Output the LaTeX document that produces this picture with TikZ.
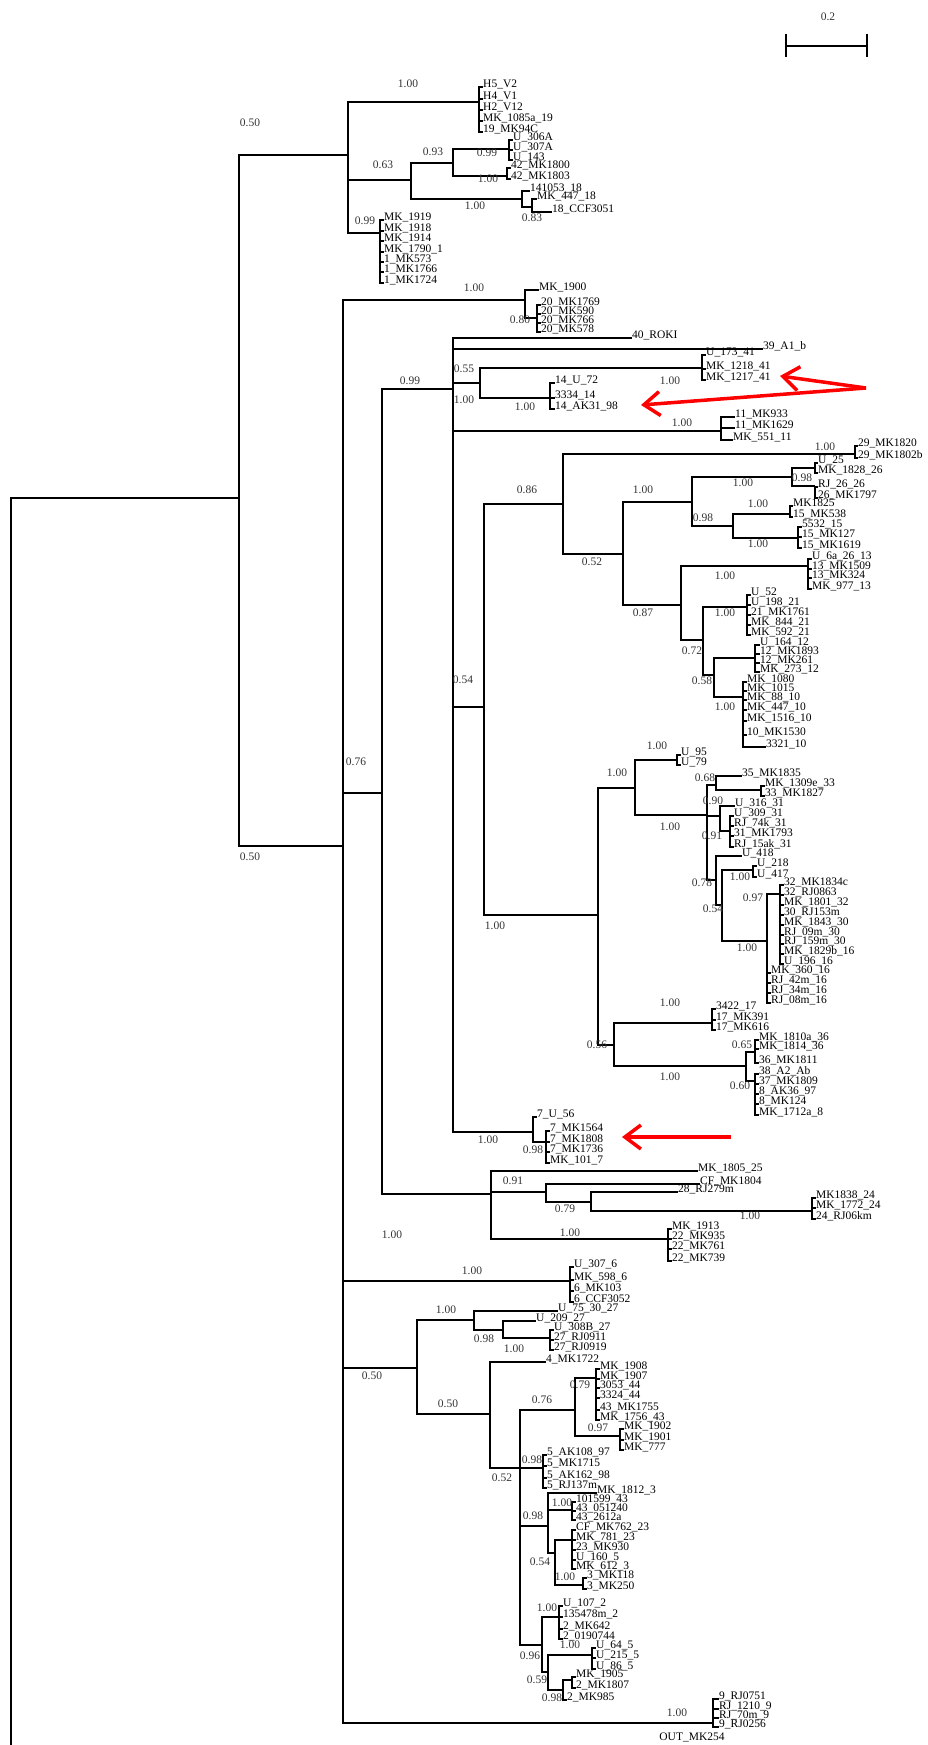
\documentclass[tikz,border=0pt]{standalone}
\usepackage{fontspec}
\setmainfont{Liberation Serif}
\usetikzlibrary{arrows.meta}
\newcounter{lfc}
\newcounter{bsc}
\tikzset{
  br/.style={line width=1.2pt},
  lab/.style={anchor=west, inner sep=0pt, font=\fontsize{11.5}{11.5}\selectfont},
  bsv/.style={inner sep=0pt, font=\fontsize{11.5}{11.5}\selectfont, text=black!80},
  redarr/.style={draw=red, line width=3.5pt, -{Straight Barb[length=16pt,width=24pt]}},
}
\newcommand\tleaf[4]{\stepcounter{lfc}%
  \coordinate (p\thelfc) at (#2,#3+3);%
  \node[lab] (t\thelfc) at (#2,#3) {#4};%
  \draw[br] (#1) |- (p\thelfc);}
\newcommand\bval[3]{\stepcounter{bsc}\node[bsv] (b\thebsc) at (#1,#2) {#3};}
\begin{document}
\catcode`\_=12
\begin{tikzpicture}[x=1pt,y=-1pt]
\fill[white] (0,0) rectangle (928,1745);
\useasboundingbox (0,0) rectangle (928,1745);
% internal nodes
\coordinate (root) at (11,1745);
\coordinate (A) at (239,498);
\coordinate (B) at (348,155);
\coordinate (cH) at (479,102);
\coordinate (C) at (411,180);
\coordinate (D) at (453,163);
\coordinate (D1) at (509,149);
\coordinate (D2) at (507,176);
\coordinate (E) at (522,199);
\coordinate (F) at (532,207);
\coordinate (c1) at (380,233);
\coordinate (G) at (343,846);
\coordinate (c20) at (525,300);
\coordinate (c20b) at (537,318);
\coordinate (H) at (382,793);
\coordinate (I) at (453,389);
\coordinate (K) at (480,383);
\coordinate (c41) at (702,368);
\coordinate (c14) at (550,398);
\coordinate (c11) at (721,431);
\coordinate (L) at (484,707);
\coordinate (M) at (563,504);
\coordinate (c29) at (855,454);
\coordinate (O) at (623,554);
\coordinate (P) at (692,502);
\coordinate (n792) at (792,477);
\coordinate (s26a) at (815,468);
\coordinate (s26b) at (815,486);
\coordinate (n733) at (733,526);
\coordinate (s15a) at (790,514);
\coordinate (s15b) at (798,538);
\coordinate (Q) at (681,605);
\coordinate (c13) at (808,566);
\coordinate (R) at (703,640);
\coordinate (c21) at (747,607);
\coordinate (S) at (714,675);
\coordinate (c12) at (755,658);
\coordinate (c10) at (743,697);
\coordinate (N) at (598,915);
\coordinate (T) at (635,788);
\coordinate (c95) at (677,760);
\coordinate (V) at (707,815);
\coordinate (W) at (716,785);
\coordinate (sW) at (761,790);
\coordinate (X) at (720,816);
\coordinate (sX) at (730,831);
\coordinate (Y) at (716,880);
\coordinate (Z) at (722,905);
\coordinate (sZ) at (753,870);
\coordinate (AA) at (767,941);
\coordinate (BB) at (780,894);
\coordinate (U) at (614,1045);
\coordinate (c17) at (712,1023);
\coordinate (CC) at (746,1066);
\coordinate (s36) at (755,1052);
\coordinate (s8) at (755,1081);
\coordinate (c7) at (533,1132);
\coordinate (s7) at (546,1142);
\coordinate (J) at (491,1194);
\coordinate (J2) at (546,1192);
\coordinate (J3) at (591,1202);
\coordinate (c24) at (812,1211);
\coordinate (c22) at (668,1239);
\coordinate (c6) at (570,1281);
\coordinate (N417) at (417,1368);
\coordinate (N474) at (474,1320);
\coordinate (N503) at (503,1330);
\coordinate (s27) at (550,1338);
\coordinate (N490) at (490,1414);
\coordinate (N520) at (520,1468);
\coordinate (N575) at (575,1410);
\coordinate (s44) at (596,1378);
\coordinate (s43) at (620,1436);
\coordinate (c5) at (543,1468);
\coordinate (N548) at (548,1526);
\coordinate (s43b) at (572,1510);
\coordinate (N555) at (555,1553);
\coordinate (s23) at (572,1540);
\coordinate (s3) at (583,1585);
\coordinate (N542) at (542,1645);
\coordinate (c2) at (559,1617);
\coordinate (N548b) at (548,1672);
\coordinate (s5b) at (592,1655);
\coordinate (N563) at (563,1690);
\coordinate (s2b) at (572,1680);
\coordinate (c9) at (713,1723);
% internal edges
\foreach \p/\c in {root/A, A/B, A/G, B/cH, B/C, B/c1, C/D, C/E, D/D1, D/D2, E/F,
  G/c20, G/H, G/c6, G/N417, G/c9, c20/c20b, H/I, H/J, I/K, I/c11, I/L, I/c7,
  K/c41, K/c14, L/M, L/N, M/c29, M/O, O/P, O/Q, P/n792, P/n733, n792/s26a, n792/s26b,
  n733/s15a, n733/s15b, Q/c13, Q/R, R/c21, R/S, S/c12, S/c10, N/T, N/U, T/c95, T/V,
  V/W, V/X, V/Y, W/sW, X/sX, Y/Z, Z/sZ, Z/AA, AA/BB, U/c17, U/CC, CC/s36, CC/s8,
  c7/s7, J/J2, J/c22, J2/J3, J3/c24, N417/N474, N417/N490, N474/N503, N503/s27,
  N490/N520, N520/N575, N520/c5, N520/N548, N520/N542, N575/s44, N575/s43,
  N548/s43b, N548/N555, N555/s23, N555/s3, N542/c2, N542/N548b, N548b/s5b,
  N548b/N563, N563/s2b}
  \draw[br] (\p) |- (\c);
% leaves
\tleaf{cH}{483}{84}{H5_V2}
\tleaf{cH}{483}{96}{H4_V1}
\tleaf{cH}{483}{107}{H2_V12}
\tleaf{cH}{483}{118}{MK_1085a_19}
\tleaf{cH}{483}{129}{19_MK94C}
\tleaf{D1}{513}{137}{U_306A}
\tleaf{D1}{513}{147}{U_307A}
\tleaf{D1}{513}{157}{U_143}
\tleaf{D2}{511}{165}{42_MK1800}
\tleaf{D2}{511}{176}{42_MK1803}
\tleaf{E}{530}{188}{141053_18}
\tleaf{F}{537}{196}{MK_447_18}
\tleaf{F}{552}{209}{18_CCF3051}
\tleaf{c1}{384}{217}{MK_1919}
\tleaf{c1}{384}{228}{MK_1918}
\tleaf{c1}{384}{238}{MK_1914}
\tleaf{c1}{384}{249}{MK_1790_1}
\tleaf{c1}{384}{259}{1_MK573}
\tleaf{c1}{384}{269}{1_MK1766}
\tleaf{c1}{384}{280}{1_MK1724}
\tleaf{c20}{539}{287}{MK_1900}
\tleaf{c20b}{541}{302}{20_MK1769}
\tleaf{c20b}{541}{311}{20_MK590}
\tleaf{c20b}{541}{320}{20_MK766}
\tleaf{c20b}{541}{329}{20_MK578}
\tleaf{I}{632}{335}{40_ROKI}
\tleaf{I}{763}{346}{39_A1_b}
\tleaf{c41}{706}{352}{U_173_41}
\tleaf{c41}{706}{366}{MK_1218_41}
\tleaf{c41}{706}{377}{MK_1217_41}
\tleaf{c14}{555}{380}{14_U_72}
\tleaf{c14}{555}{395}{3334_14}
\tleaf{c14}{555}{406}{14_AK31_98}
\tleaf{c11}{735}{414}{11_MK933}
\tleaf{c11}{735}{425}{11_MK1629}
\tleaf{c11}{733}{437}{MK_551_11}
\tleaf{c29}{858}{443}{29_MK1820}
\tleaf{c29}{858}{455}{29_MK1802b}
\tleaf{s26a}{818}{460}{U_25}
\tleaf{s26a}{818}{470}{MK_1828_26}
\tleaf{s26b}{818}{484}{RJ_26_26}
\tleaf{s26b}{818}{495}{26_MK1797}
\tleaf{s15a}{793}{503}{MK1825}
\tleaf{s15a}{793}{514}{15_MK538}
\tleaf{s15b}{802}{524}{5532_15}
\tleaf{s15b}{802}{534}{15_MK127}
\tleaf{s15b}{802}{545}{15_MK1619}
\tleaf{c13}{812}{556}{U_6a_26_13}
\tleaf{c13}{812}{566}{13_MK1509}
\tleaf{c13}{812}{575}{13_MK324}
\tleaf{c13}{812}{586}{MK_977_13}
\tleaf{c21}{751}{592}{U_52}
\tleaf{c21}{751}{602}{U_198_21}
\tleaf{c21}{751}{612}{21_MK1761}
\tleaf{c21}{751}{622}{MK_844_21}
\tleaf{c21}{751}{632}{MK_592_21}
\tleaf{c12}{760}{642}{U_164_12}
\tleaf{c12}{760}{651}{12_MK1893}
\tleaf{c12}{760}{660}{12_MK261}
\tleaf{c12}{760}{669}{MK_273_12}
\tleaf{c10}{747}{679}{MK_1080}
\tleaf{c10}{747}{688}{MK_1015}
\tleaf{c10}{747}{697}{MK_88_10}
\tleaf{c10}{747}{707}{MK_447_10}
\tleaf{c10}{747}{718}{MK_1516_10}
\tleaf{c10}{747}{732}{10_MK1530}
\tleaf{c10}{766}{744}{3321_10}
\tleaf{c95}{681}{752}{U_95}
\tleaf{c95}{681}{762}{U_79}
\tleaf{W}{742}{773}{35_MK1835}
\tleaf{sW}{765}{783}{MK_1309e_33}
\tleaf{sW}{765}{793}{33_MK1827}
\tleaf{X}{735}{803}{U_316_31}
\tleaf{sX}{734}{813}{U_309_31}
\tleaf{sX}{734}{823}{RJ_74k_31}
\tleaf{sX}{734}{833}{31_MK1793}
\tleaf{sX}{734}{844}{RJ_15ak_31}
\tleaf{Y}{742}{853}{U_418}
\tleaf{sZ}{757}{863}{U_218}
\tleaf{sZ}{757}{874}{U_417}
\tleaf{BB}{784}{882}{32_MK1834c}
\tleaf{BB}{784}{892}{32_RJ0863}
\tleaf{BB}{784}{902}{MK_1801_32}
\tleaf{BB}{784}{912}{30_RJ153m}
\tleaf{BB}{784}{922}{MK_1843_30}
\tleaf{BB}{784}{932}{RJ_09m_30}
\tleaf{BB}{784}{941}{RJ_159m_30}
\tleaf{BB}{784}{951}{MK_1829b_16}
\tleaf{BB}{784}{961}{U_196_16}
\tleaf{AA}{771}{970}{MK_360_16}
\tleaf{AA}{771}{980}{RJ_42m_16}
\tleaf{AA}{771}{990}{RJ_34m_16}
\tleaf{AA}{771}{1000}{RJ_08m_16}
\tleaf{c17}{716}{1006}{3422_17}
\tleaf{c17}{716}{1017}{17_MK391}
\tleaf{c17}{716}{1027}{17_MK616}
\tleaf{s36}{759}{1037}{MK_1810a_36}
\tleaf{s36}{759}{1046}{MK_1814_36}
\tleaf{s36}{759}{1060}{36_MK1811}
\tleaf{s8}{759}{1071}{38_A2_Ab}
\tleaf{s8}{759}{1081}{37_MK1809}
\tleaf{s8}{759}{1091}{8_AK36_97}
\tleaf{s8}{759}{1101}{8_MK124}
\tleaf{s8}{759}{1112}{MK_1712a_8}
\tleaf{c7}{537}{1114}{7_U_56}
\tleaf{s7}{550}{1128}{7_MK1564}
\tleaf{s7}{550}{1139}{7_MK1808}
\tleaf{s7}{550}{1149}{7_MK1736}
\tleaf{s7}{550}{1160}{MK_101_7}
\tleaf{J}{698}{1168}{MK_1805_25}
\tleaf{J2}{700}{1181}{CF_MK1804}
\tleaf{J3}{678}{1189}{28_RJ279m}
\tleaf{c24}{816}{1195}{MK1838_24}
\tleaf{c24}{816}{1205}{MK_1772_24}
\tleaf{c24}{816}{1216}{24_RJ06km}
\tleaf{c22}{672}{1226}{MK_1913}
\tleaf{c22}{672}{1236}{22_MK935}
\tleaf{c22}{672}{1246}{22_MK761}
\tleaf{c22}{672}{1258}{22_MK739}
\tleaf{c6}{574}{1264}{U_307_6}
\tleaf{c6}{574}{1277}{MK_598_6}
\tleaf{c6}{574}{1288}{6_MK103}
\tleaf{c6}{574}{1299}{6_CCF3052}
\tleaf{N474}{558}{1308}{U_75_30_27}
\tleaf{N503}{536}{1318}{U_209_27}
\tleaf{s27}{554}{1327}{U_308B_27}
\tleaf{s27}{554}{1337}{27_RJ0911}
\tleaf{s27}{554}{1347}{27_RJ0919}
\tleaf{N490}{546}{1359}{4_MK1722}
\tleaf{s44}{600}{1366}{MK_1908}
\tleaf{s44}{600}{1376}{MK_1907}
\tleaf{s44}{600}{1385}{3053_44}
\tleaf{s44}{600}{1395}{3324_44}
\tleaf{s44}{600}{1407}{43_MK1755}
\tleaf{s44}{600}{1417}{MK_1756_43}
\tleaf{s43}{624}{1426}{MK_1902}
\tleaf{s43}{624}{1437}{MK_1901}
\tleaf{s43}{624}{1447}{MK_777}
\tleaf{c5}{547}{1452}{5_AK108_97}
\tleaf{c5}{547}{1463}{5_MK1715}
\tleaf{c5}{547}{1475}{5_AK162_98}
\tleaf{c5}{547}{1485}{5_RJ137m}
\tleaf{N548}{597}{1490}{MK_1812_3}
\tleaf{s43b}{576}{1499}{101599_43}
\tleaf{s43b}{576}{1508}{43_051240}
\tleaf{s43b}{576}{1517}{43_2612a}
\tleaf{s23}{576}{1527}{CF_MK762_23}
\tleaf{s23}{576}{1537}{MK_781_23}
\tleaf{s23}{576}{1547}{23_MK930}
\tleaf{s23}{576}{1557}{U_160_5}
\tleaf{s23}{576}{1566}{MK_612_3}
\tleaf{s3}{587}{1575}{3_MK118}
\tleaf{s3}{587}{1586}{3_MK250}
\tleaf{c2}{563}{1603}{U_107_2}
\tleaf{c2}{563}{1614}{135478m_2}
\tleaf{c2}{563}{1626}{2_MK642}
\tleaf{c2}{563}{1636}{2_0190744}
\tleaf{s5b}{596}{1645}{U_64_5}
\tleaf{s5b}{596}{1655}{U_215_5}
\tleaf{s5b}{596}{1666}{U_86_5}
\tleaf{s2b}{576}{1674}{MK_1905}
\tleaf{s2b}{576}{1685}{2_MK1807}
\tleaf{N563}{567}{1697}{2_MK985}
\tleaf{c9}{719}{1696}{9_RJ0751}
\tleaf{c9}{719}{1706}{RJ_1210_9}
\tleaf{c9}{719}{1715}{RJ_70m_9}
\tleaf{c9}{719}{1724}{9_RJ0256}
\node[lab, anchor=center] (outg) at (692,1737) {OUT_MK254};
% support values
\bval{250}{123}{0.50}
\bval{250}{857}{0.50}
\bval{408}{84}{1.00}
\bval{383}{165}{0.63}
\bval{433}{152}{0.93}
\bval{487}{153}{0.99}
\bval{488}{179}{1.00}
\bval{475}{206}{1.00}
\bval{532}{218}{0.83}
\bval{365}{221}{0.99}
\bval{474}{288}{1.00}
\bval{520}{320}{0.80}
\bval{356}{762}{0.76}
\bval{410}{381}{0.99}
\bval{464}{369}{0.55}
\bval{464}{400}{1.00}
\bval{670}{381}{1.00}
\bval{525}{407}{1.00}
\bval{682}{423}{1.00}
\bval{463}{680}{0.54}
\bval{527}{490}{0.86}
\bval{825}{447}{1.00}
\bval{592}{562}{0.52}
\bval{643}{490}{1.00}
\bval{743}{483}{1.00}
\bval{802}{478}{0.98}
\bval{703}{518}{0.98}
\bval{758}{504}{1.00}
\bval{758}{544}{1.00}
\bval{643}{613}{0.87}
\bval{725}{576}{1.00}
\bval{692}{651}{0.72}
\bval{725}{613}{1.00}
\bval{702}{681}{0.58}
\bval{725}{707}{1.00}
\bval{495}{926}{1.00}
\bval{617}{773}{1.00}
\bval{657}{746}{1.00}
\bval{670}{827}{1.00}
\bval{705}{778}{0.68}
\bval{713}{801}{0.90}
\bval{712}{836}{0.91}
\bval{702}{883}{0.78}
\bval{713}{909}{0.54}
\bval{740}{877}{1.00}
\bval{753}{898}{0.97}
\bval{747}{948}{1.00}
\bval{597}{1045}{0.56}
\bval{670}{1003}{1.00}
\bval{670}{1077}{1.00}
\bval{742}{1045}{0.65}
\bval{740}{1086}{0.60}
\bval{488}{1140}{1.00}
\bval{533}{1150}{0.98}
\bval{392}{1235}{1.00}
\bval{513}{1181}{0.91}
\bval{565}{1209}{0.79}
\bval{750}{1216}{1.00}
\bval{570}{1233}{1.00}
\bval{472}{1271}{1.00}
\bval{372}{1376}{0.50}
\bval{446}{1310}{1.00}
\bval{484}{1339}{0.98}
\bval{514}{1349}{1.00}
\bval{448}{1404}{0.50}
\bval{542}{1400}{0.76}
\bval{580}{1385}{0.79}
\bval{598}{1428}{0.97}
\bval{532}{1460}{0.98}
\bval{502}{1478}{0.52}
\bval{533}{1516}{0.98}
\bval{562}{1503}{1.00}
\bval{540}{1562}{0.54}
\bval{565}{1577}{1.00}
\bval{530}{1656}{0.96}
\bval{547}{1608}{1.00}
\bval{570}{1645}{1.00}
\bval{537}{1680}{0.59}
\bval{552}{1698}{0.98}
\bval{677}{1713}{1.00}
% scale bar
\coordinate (sb1) at (786,46);
\coordinate (sb2) at (867,46);
\draw[br] (sb1) -- (sb2);
\draw[br] (786,34) -- (786,57);
\draw[br] (867,34) -- (867,57);
\node[bsv] (sbl) at (828,17) {0.2};
% red arrows
\coordinate (ra) at (866,388);
\coordinate (rtip1) at (780,376);
\coordinate (rtip2) at (641,405);
\coordinate (rb) at (731,1137);
\coordinate (rtip3) at (622,1137);
\draw[redarr] (ra) -- (rtip1);
\draw[redarr] (ra) -- (rtip2);
\draw[redarr] (rb) -- (rtip3);
\end{tikzpicture}
\end{document}
